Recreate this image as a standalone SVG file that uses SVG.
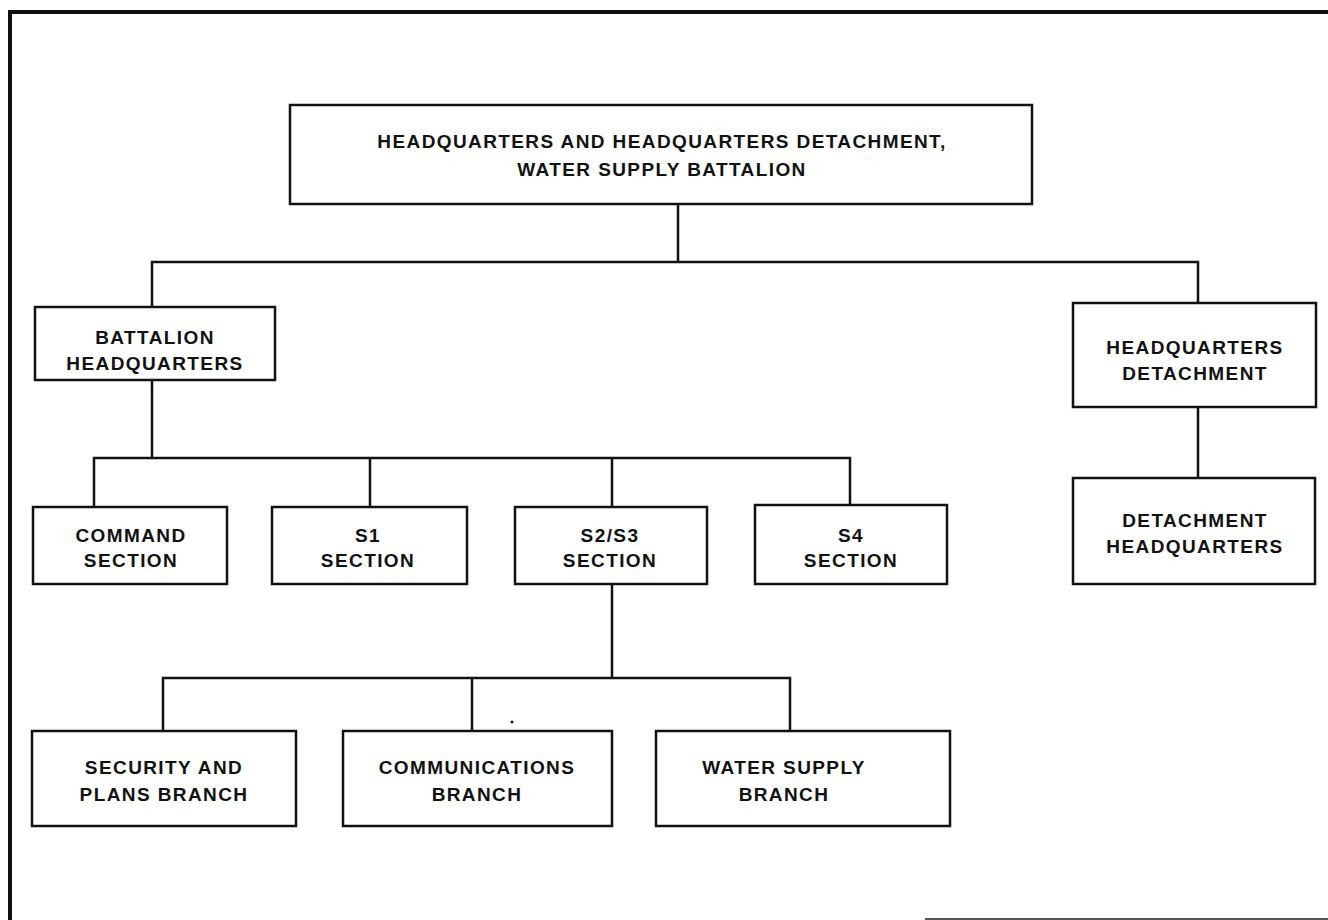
<svg xmlns="http://www.w3.org/2000/svg" width="1328" height="920" viewBox="0 0 1328 920">
<style>
.box{fill:#fff;stroke:#111;stroke-width:2.5}
.lbl{font-family:"Liberation Sans",Arial,sans-serif;font-weight:bold;font-size:19px;letter-spacing:1.4px;fill:#111;text-anchor:middle}
.con{fill:none;stroke:#111;stroke-width:2.5}
.frame{fill:none;stroke:#111;stroke-width:4}
</style>
<rect width="1328" height="920" fill="#fff"/>
<g id="frame">
<path class="frame" d="M10,920 V12 H1328"/>
<path d="M925,919 H1328" stroke="#555" stroke-width="2" fill="none"/>
</g>
<g id="connectors">
<path class="con" d="M678,204 V262 M152,307 V262 H1198 V303"/>
<path class="con" d="M1198,407 V478"/>
<path class="con" d="M152,380 V458 M94,507 V458 H850 V505 M370,458 V507 M612,458 V507"/>
<path class="con" d="M612,584 V678 M163,731 V678 H790 V731 M472,678 V731"/>
<circle cx="512" cy="722" r="1.5" fill="#111"/>
</g>
<g id="n-hhd"><rect class="box" x="290" y="105" width="742" height="99"/>
<text class="lbl" x="662" y="148">HEADQUARTERS AND HEADQUARTERS DETACHMENT,</text>
<text class="lbl" x="662" y="176">WATER SUPPLY BATTALION</text></g>
<g id="n-bhq"><rect class="box" x="35" y="307" width="240" height="73"/>
<text class="lbl" x="155" y="344">BATTALION</text>
<text class="lbl" x="155" y="370">HEADQUARTERS</text></g>
<g id="n-hqdet"><rect class="box" x="1073" y="303" width="243" height="104"/>
<text class="lbl" x="1195" y="354">HEADQUARTERS</text>
<text class="lbl" x="1195" y="380">DETACHMENT</text></g>
<g id="n-dethq"><rect class="box" x="1073" y="478" width="242" height="106"/>
<text class="lbl" x="1195" y="527">DETACHMENT</text>
<text class="lbl" x="1195" y="553">HEADQUARTERS</text></g>
<g id="n-cmd"><rect class="box" x="33" y="507" width="194" height="77"/>
<text class="lbl" x="131" y="542">COMMAND</text>
<text class="lbl" x="131" y="567">SECTION</text></g>
<g id="n-s1"><rect class="box" x="272" y="507" width="195" height="77"/>
<text class="lbl" x="368" y="542">S1</text>
<text class="lbl" x="368" y="567">SECTION</text></g>
<g id="n-s2s3"><rect class="box" x="515" y="507" width="192" height="77"/>
<text class="lbl" x="610" y="542">S2/S3</text>
<text class="lbl" x="610" y="567">SECTION</text></g>
<g id="n-s4"><rect class="box" x="755" y="505" width="192" height="79"/>
<text class="lbl" x="851" y="542">S4</text>
<text class="lbl" x="851" y="567">SECTION</text></g>
<g id="n-sec"><rect class="box" x="32" y="731" width="264" height="95"/>
<text class="lbl" x="164" y="774">SECURITY AND</text>
<text class="lbl" x="164" y="801">PLANS BRANCH</text></g>
<g id="n-comm"><rect class="box" x="343" y="731" width="269" height="95"/>
<text class="lbl" x="477" y="774">COMMUNICATIONS</text>
<text class="lbl" x="477" y="801">BRANCH</text></g>
<g id="n-ws"><rect class="box" x="656" y="731" width="294" height="95"/>
<text class="lbl" x="784" y="774">WATER SUPPLY</text>
<text class="lbl" x="784" y="801">BRANCH</text></g>
</svg>
